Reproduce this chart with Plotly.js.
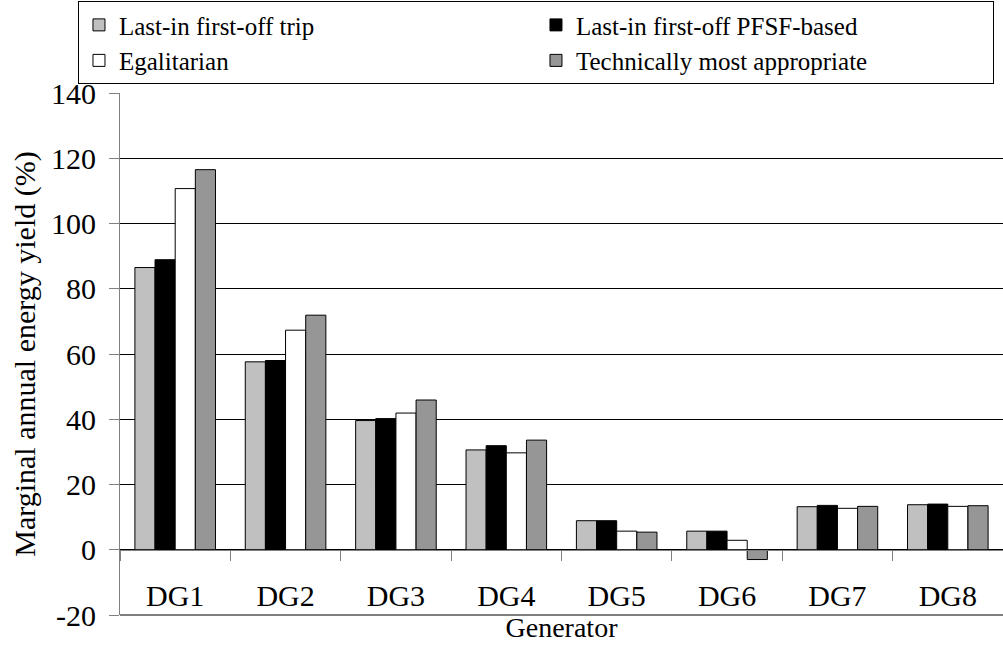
<!DOCTYPE html>
<html><head><meta charset="utf-8">
<script src="https://cdn.plot.ly/plotly-3.0.1.min.js"></script>
<style>
html,body{margin:0;padding:0;background:#fff;font-family:"Liberation Serif",serif}
#chart svg text, #chart svg tspan { font-family: "Liberation Serif", serif !important; }
</style>
</head><body>
<div id="chart" style="width:1003px;height:649px"></div>
<script>
const categories = ["DG1","DG2","DG3","DG4","DG5","DG6","DG7","DG8"];
const seriesNames = ["Last-in first-off trip","Last-in first-off PFSF-based","Egalitarian","Technically most appropriate"];
const lifoTrip   = [86.5, 57.6, 39.6, 30.6, 8.9, 5.7, 13.2, 13.8];
const lifoPfsf   = [88.9, 58.0, 40.2, 31.9, 8.9, 5.7, 13.6, 14.0];
const egalitarian= [110.7, 67.3, 41.9, 29.7, 5.7, 2.9, 12.7, 13.3];
const technical  = [116.5, 71.9, 45.9, 33.6, 5.4, -3.0, 13.3, 13.5];
const yTicks = [-20, 0, 20, 40, 60, 80, 100, 120, 140];
const yTickText = ["-20", "0", "20", "40", "60", "80", "100", "120", "140"];

const colors = ["#C0C0C0", "#000000", "#FFFFFF", "#969696"];
const values = [lifoTrip, lifoPfsf, egalitarian, technical];
const FONT = "Liberation Serif, serif";

const traces = values.map((v, i) => ({
  type: "bar", name: seriesNames[i], x: categories, y: v,
  marker: {color: colors[i], line: {color: "#000", width: 1}},
  hoverinfo: "x+y+name"
}));

const layout = {
  width: 1003, height: 649,
  margin: {l: 120, r: 0, t: 93, b: 34},
  paper_bgcolor: "#fff", plot_bgcolor: "#fff",
  font: {family: FONT, size: 30, color: "#000"},
  barmode: "group", bargap: 0.27, bargroupgap: 0,
  showlegend: true,
  legend: {
    orientation: "h", x: -0.0476, xanchor: "left", y: 1.176, yanchor: "top",
    bordercolor: "#000", borderwidth: 1, bgcolor: "#fff",
    font: {family: FONT, size: 25, color: "#000"},
    entrywidth: 412, traceorder: "normal", itemwidth: 30
  },
  xaxis: {
    type: "category", range: [-0.5, 7.5], fixedrange: true,
    anchor: "free", position: 0.125,
    showline: true, linecolor: "#808080", linewidth: 1,
    ticks: "outside", tickson: "boundaries", ticklen: 10, tickcolor: "#808080",
    showgrid: false, zeroline: false, ticklabelstandoff: 19,
    tickfont: {family: FONT, size: 30, color: "#000"},
    title: {text: "Generator", font: {family: FONT, size: 28, color: "#000"}, standoff: 6}
  },
  yaxis: {
    range: [-20, 140], tickvals: yTicks, ticktext: yTickText, fixedrange: true,
    showline: true, linecolor: "#808080", linewidth: 1,
    ticks: "outside", ticklen: 10, tickcolor: "#808080", ticklabelstandoff: 7,
    showgrid: true, gridcolor: "#000", gridwidth: 1, zeroline: false,
    tickfont: {family: FONT, size: 30, color: "#000"},
    title: {text: "Marginal annual energy yield (%)", font: {family: FONT, size: 30, color: "#000"}, standoff: 6}
  },
  shapes: [{
    type: "line", xref: "paper", yref: "paper", x0: 0, x1: 1, y0: 0, y1: 0,
    line: {color: "#000", width: 1}, layer: "above"
  }]
};

Plotly.newPlot("chart", traces, layout, {displayModeBar: false, staticPlot: true});
</script>
</body></html>
